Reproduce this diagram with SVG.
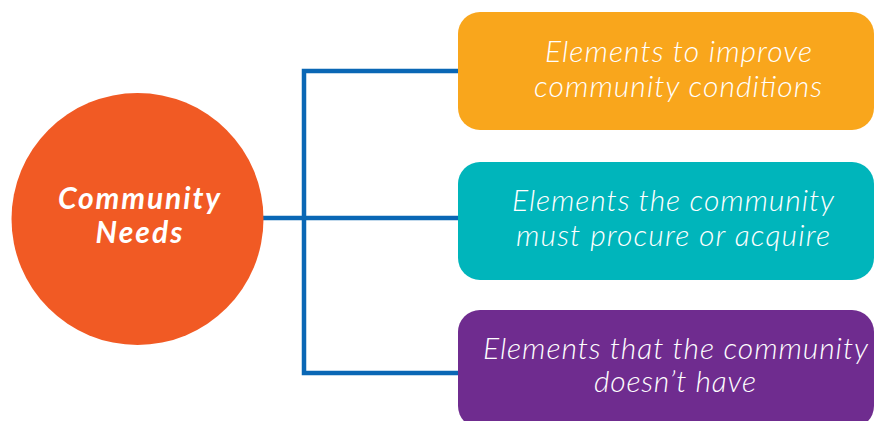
<svg xmlns="http://www.w3.org/2000/svg" width="876" height="421" viewBox="0 0 876 421">
<style>
.box-text{font-family:Lato,"Open Sans","Liberation Sans",sans-serif;font-style:italic;font-weight:300;font-size:30px;fill:#fff;text-anchor:middle}
.hub-text{font-family:Lato,"Open Sans","Liberation Sans",sans-serif;font-style:italic;font-weight:700;font-size:30px;fill:#fff;text-anchor:middle}
.conn{fill:none;stroke:#0a67b5;stroke-width:4.5}
</style>
<rect width="876" height="421" fill="#fff"/>
<g id="connectors">
<path class="conn" d="M262 218 H460"/>
<path class="conn" d="M460 71 H304 V373 H460"/>
</g>
<g id="hub">
<circle cx="137.5" cy="219" r="126" fill="#f15a24"/>
<text class="hub-text" x="139" y="209" textLength="162" lengthAdjust="spacing">Community</text>
<text class="hub-text" x="139" y="243" textLength="87" lengthAdjust="spacing">Needs</text>
</g>
<g id="node1">
<rect x="458" y="12" width="416" height="118" rx="22" fill="#f9a61c"/>
<text class="box-text" x="678.5" y="62" textLength="267" lengthAdjust="spacing">Elements to improve</text>
<text class="box-text" x="678" y="97" textLength="288" lengthAdjust="spacing">community conditions</text>
</g>
<g id="node2">
<rect x="458" y="162" width="416" height="118" rx="22" fill="#00b5bb"/>
<text class="box-text" x="673" y="211" textLength="322" lengthAdjust="spacing">Elements the community</text>
<text class="box-text" x="673" y="246" textLength="314" lengthAdjust="spacing">must procure or acquire</text>
</g>
<g id="node3">
<rect x="458" y="310" width="416" height="118" rx="22" fill="#6f2c8f"/>
<text class="box-text" x="675.5" y="359" textLength="385" lengthAdjust="spacing">Elements that the community</text>
<text class="box-text" x="675" y="392" textLength="162" lengthAdjust="spacing">doesn’t have</text>
</g>
</svg>
